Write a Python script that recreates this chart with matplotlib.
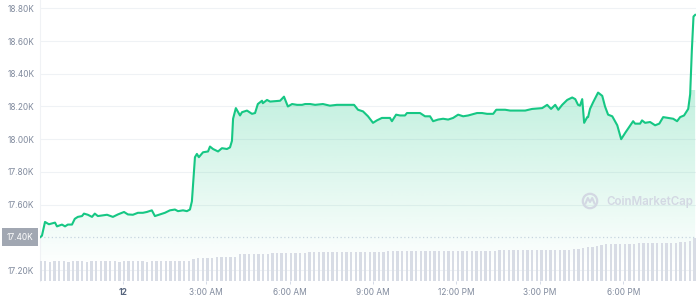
import numpy as np
import matplotlib.pyplot as plt
from matplotlib.patches import Circle
from matplotlib.lines import Line2D
import matplotlib.transforms as mtransforms

plt.rcParams['font.family'] = ['Inter', 'DejaVu Sans']

# price line: hours from midnight of the 12th, price in USD
hours = [-2.97, -2.90, -2.79, -2.65, -2.43, -2.36, -2.18, -2.07, -1.97, -1.82,
         -1.72, -1.61, -1.46, -1.39, -1.25, -1.10, -1.00, -0.89, -0.56, -0.35,
         -0.17, 0.05, 0.19, 0.37, 0.55, 0.73, 0.87, 1.05, 1.16, 1.34,
         1.52, 1.70, 1.88, 1.99, 2.17, 2.31, 2.42, 2.49, 2.60, 2.67,
         2.74, 2.89, 3.07, 3.14, 3.25, 3.43, 3.57, 3.75, 3.86, 3.93,
         3.97, 4.07, 4.22, 4.29, 4.47, 4.65, 4.76, 4.86, 5.01, 5.04,
         5.19, 5.30, 5.66, 5.80, 5.94, 6.09, 6.27, 6.45, 6.56, 6.74,
         6.92, 7.20, 7.45, 7.70, 8.06, 8.32, 8.46, 8.64, 8.82, 9.00,
         9.14, 9.32, 9.43, 9.61, 9.68, 9.83, 9.97, 10.15, 10.22, 10.44,
         10.69, 10.87, 11.05, 11.16, 11.34, 11.52, 11.70, 11.88, 12.06, 12.24,
         12.42, 12.74, 12.92, 13.10, 13.32, 13.43, 13.57, 13.75, 13.93, 14.22,
         14.47, 14.72, 15.08, 15.26, 15.40, 15.55, 15.66, 15.80, 15.98, 16.16,
         16.27, 16.37, 16.44, 16.52, 16.59, 16.70, 16.73, 16.80, 16.91, 17.09,
         17.24, 17.34, 17.45, 17.60, 17.78, 17.92, 18.07, 18.17, 18.35, 18.42,
         18.60, 18.67, 18.78, 18.96, 19.14, 19.29, 19.43, 19.61, 19.79, 19.93,
         20.04, 20.18, 20.33, 20.40, 20.46, 20.52, 20.58]
price = [17400, 17410, 17494, 17480, 17490, 17467, 17478, 17467, 17478, 17478,
         17513, 17525, 17530, 17545, 17538, 17525, 17545, 17530, 17538, 17525,
         17540, 17555, 17540, 17538, 17550, 17550, 17555, 17565, 17530, 17540,
         17550, 17565, 17570, 17560, 17565, 17560, 17570, 17620, 17890, 17910,
         17890, 17920, 17925, 17955, 17940, 17925, 17945, 17940, 17950, 17990,
         18125, 18190, 18145, 18165, 18175, 18155, 18160, 18215, 18235, 18220,
         18240, 18230, 18235, 18260, 18200, 18215, 18210, 18210, 18215, 18215,
         18210, 18215, 18205, 18210, 18210, 18210, 18180, 18170, 18140, 18100,
         18115, 18130, 18130, 18130, 18110, 18150, 18145, 18145, 18160, 18160,
         18160, 18140, 18140, 18110, 18120, 18125, 18120, 18130, 18150, 18140,
         18145, 18160, 18160, 18155, 18155, 18180, 18180, 18180, 18175, 18175,
         18175, 18185, 18190, 18210, 18185, 18210, 18180, 18210, 18240, 18255,
         18245, 18210, 18205, 18245, 18100, 18135, 18135, 18185, 18225, 18285,
         18265, 18200, 18150, 18140, 18085, 18000, 18040, 18065, 18110, 18095,
         18095, 18115, 18100, 18105, 18085, 18095, 18135, 18130, 18125, 18110,
         18135, 18145, 18185, 18275, 18540, 18750, 18760]

# volume bars, one every 10 minutes (billions USD)
vol_start = -2.95
vol_step = 1 / 6
volume = [29.3, 29.7, 29.1, 29.4, 29.3, 29.6, 29.0, 29.4, 29.7, 29.3,
          29.1, 29.4, 29.6, 29.3, 29.4, 29.9, 29.3, 29.1, 29.4, 29.7,
          29.3, 29.6, 29.4, 29.1, 29.3, 29.7, 29.4, 29.3, 29.6, 29.4,
          29.3, 29.7, 29.6,
          33.0, 33.8, 34.5, 34.5, 34.8, 35.3, 35.3, 35.7, 36.0, 36.0,
          39.8, 40.1, 40.2, 40.5, 40.5, 40.8, 41.0, 41.3, 41.6, 42.0, 42.0,
          42.5, 42.6, 42.8, 42.8, 43.0, 43.1, 43.2, 43.2, 43.4, 43.5, 43.5, 43.6, 43.7,
          43.8, 44.0, 44.0, 44.1, 44.2, 44.2, 44.3, 44.3, 44.4, 44.4, 44.5, 44.5,
          44.6, 44.6, 44.7, 44.7, 44.8, 44.8, 44.9, 44.9, 45.0, 45.0, 45.1, 45.1,
          45.2, 45.3, 45.3, 45.4, 45.4, 45.5, 45.5, 45.6,
          46.0, 46.2, 46.3, 46.4, 46.5, 46.5, 46.6, 46.6, 46.7, 46.7, 46.8, 46.8,
          46.9, 46.9, 47.0, 47.1, 47.4, 48.0,
          50.0, 51.0, 51.6, 52.2,
          54.5, 55.0, 55.2, 55.4, 55.6,
          56.0, 56.2, 56.3, 56.4, 56.5, 56.6, 56.6, 56.7, 56.8,
          57.5, 57.7, 57.8, 58.0, 58.1,
          60.0, 64.5]

y_ticks = [17200, 17400, 17600, 17800, 18000, 18200, 18400, 18600, 18800]
y_labels = ['17.20K', '17.40K', '17.60K', '17.80K', '18.00K', '18.20K', '18.40K', '18.60K', '18.80K']
x_ticks = [0, 3, 6, 9, 12, 15, 18]
x_labels = ['12', '3:00 AM', '6:00 AM', '9:00 AM', '12:00 PM', '3:00 PM', '6:00 PM']
open_price = 17400

green = '#16c784'
grey_txt = '#808a9d'
x0, x1 = -2.97, 20.61
y0, y1 = 17133, 18851

fig = plt.figure(figsize=(6.96, 3.0), dpi=100)
pos = [40 / 696, 19 / 300, 656 / 696, 281 / 300]
ax = fig.add_axes(pos)
ax.set_xlim(x0, x1)
ax.set_ylim(y0, y1)

# grid
for yt in y_ticks:
    if yt == open_price:
        continue
    ax.axhline(yt, color='#eff2f5', lw=0.8, zorder=0)
ax.axhline(open_price, color='#cfd6e4', lw=0.9, ls=(0, (1, 2)), zorder=1)

# gradient fill under the line
poly = ax.fill_between(hours, price, y0, color='none', lw=0)
grad = np.zeros((256, 1, 4))
grad[:, 0, :3] = [0x16 / 255, 0xc7 / 255, 0x84 / 255]
grad[:, 0, 3] = np.linspace(0.26, 0.01, 256)
img = ax.imshow(grad, extent=[x0, x1, 17250, 18300], aspect='auto', origin='upper', zorder=1)
img.set_clip_path(poly.get_paths()[0], transform=ax.transData)

ax.plot(hours, price, color=green, lw=1.5, zorder=3, solid_joinstyle='round')

ax.set_yticks(y_ticks)
ax.set_yticklabels(y_labels)
ax.set_xticks(x_ticks)
ax.set_xticklabels(x_labels)
ax.tick_params(axis='y', length=0, pad=4, labelsize=6, labelcolor=grey_txt)
ax.tick_params(axis='x', length=2.5, width=0.6, color='#cfd6e4', pad=2.5, labelsize=6, labelcolor=grey_txt)
xl = ax.get_xticklabels()
xl[0].set_fontweight('bold')
xl[0].set_color('#58667e')

# open price label box
for lab in ax.get_yticklabels():
    if lab.get_text() == '17.40K':
        lab.set_color('none')
tr = mtransforms.blended_transform_factory(fig.transFigure, ax.transData)
ax.text(20 / 696, open_price, '17.40K', transform=tr, ha='center', va='center',
        fontsize=6, color='white',
        bbox=dict(boxstyle='square,pad=0.55', fc='#a1a7b2', ec='none'))

for s in ['top', 'right', 'bottom']:
    ax.spines[s].set_visible(False)
ax.spines['left'].set_color('#f0f2f5')
ax.spines['left'].set_linewidth(0.8)

# volume axis
vax = fig.add_axes(pos, sharex=ax)
vax.patch.set_visible(False)
vax.axis('off')
vax.set_ylim(0, 422)
vt = vol_start + vol_step * np.arange(len(volume))
vax.bar(vt, volume, width=0.085, color='#d8dce5', lw=0)
vax.set_xlim(x0, x1)

# watermark (drawn in inches so the ring stays round)
inch = fig.dpi_scale_trans
cx, cy = 5.90, 0.99
fig.add_artist(Circle((cx, cy), 0.072, transform=inch, fill=False, ec='#d3d8e3', lw=1.6))
fig.add_artist(Line2D([cx - 0.045, cx - 0.022, cx, cx + 0.022, cx + 0.045],
                      [cy - 0.025, cy + 0.03, cy - 0.01, cy + 0.03, cy - 0.025],
                      transform=inch, color='#d3d8e3', lw=1.5, solid_joinstyle='round'))
fig.text(606 / 696, 1 - 202 / 300, 'CoinMarketCap', ha='left', va='center',
         fontsize=8.3, fontweight='semibold', color='#d3d8e3')

fig.savefig('out.png', dpi=100)
